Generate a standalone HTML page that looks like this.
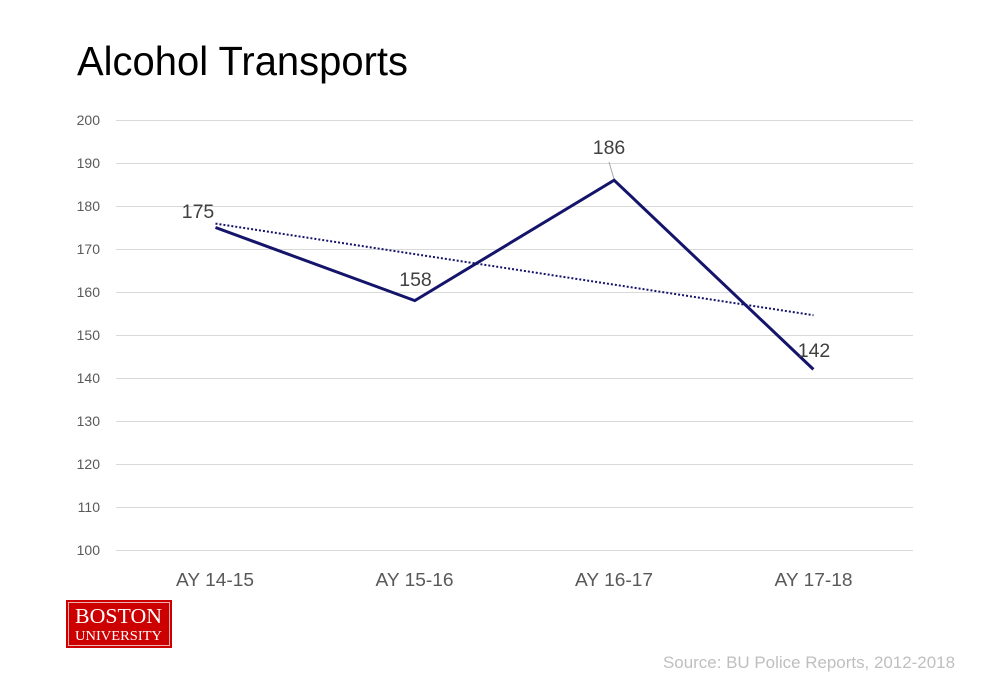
<!DOCTYPE html>
<html>
<head>
<meta charset="utf-8">
<style>
html,body{margin:0;padding:0;background:#fff;}
svg{display:block;}
</style>
</head>
<body>
<svg width="995" height="692" viewBox="0 0 995 692" xmlns="http://www.w3.org/2000/svg">
<rect width="995" height="692" fill="#fff"/>
<text x="77" y="75" font-family="Liberation Sans, sans-serif" font-size="41" fill="#000" textLength="331" lengthAdjust="spacingAndGlyphs">Alcohol Transports</text>
<g stroke="#d9d9d9" stroke-width="1">
<line x1="116" y1="120.5" x2="913" y2="120.5"/>
<line x1="116" y1="163.5" x2="913" y2="163.5"/>
<line x1="116" y1="206.5" x2="913" y2="206.5"/>
<line x1="116" y1="249.5" x2="913" y2="249.5"/>
<line x1="116" y1="292.5" x2="913" y2="292.5"/>
<line x1="116" y1="335.5" x2="913" y2="335.5"/>
<line x1="116" y1="378.5" x2="913" y2="378.5"/>
<line x1="116" y1="421.5" x2="913" y2="421.5"/>
<line x1="116" y1="464.5" x2="913" y2="464.5"/>
<line x1="116" y1="507.5" x2="913" y2="507.5"/>
<line x1="116" y1="550.5" x2="913" y2="550.5"/>
</g>
<g font-family="Liberation Sans, sans-serif" font-size="14" fill="#595959" text-anchor="end">
<text x="100" y="125">200</text>
<text x="100" y="168">190</text>
<text x="100" y="211">180</text>
<text x="100" y="254">170</text>
<text x="100" y="297">160</text>
<text x="100" y="340">150</text>
<text x="100" y="383">140</text>
<text x="100" y="426">130</text>
<text x="100" y="469">120</text>
<text x="100" y="512">110</text>
<text x="100" y="555">100</text>
</g>
<g font-family="Liberation Sans, sans-serif" font-size="18.5" fill="#595959" text-anchor="middle">
<text x="215" y="586" textLength="78" lengthAdjust="spacingAndGlyphs">AY 14-15</text>
<text x="414.5" y="586" textLength="78" lengthAdjust="spacingAndGlyphs">AY 15-16</text>
<text x="614" y="586" textLength="78" lengthAdjust="spacingAndGlyphs">AY 16-17</text>
<text x="813.5" y="586" textLength="78" lengthAdjust="spacingAndGlyphs">AY 17-18</text>
</g>
<line x1="215.5" y1="223.6" x2="813.5" y2="315.2" stroke="#14146b" stroke-width="2" stroke-dasharray="2,2"/>
<line x1="609" y1="162" x2="614" y2="179" stroke="#a6a6a6" stroke-width="1"/>
<polyline points="215.5,227.5 414.8,300.6 614.1,180.2 813.4,369.4" fill="none" stroke="#14146b" stroke-width="3" stroke-linejoin="miter"/>
<g font-family="Liberation Sans, sans-serif" font-size="19.5" fill="#404040" text-anchor="middle">
<text x="198" y="218">175</text>
<text x="415.5" y="286">158</text>
<text x="609" y="154">186</text>
<text x="814" y="357">142</text>
</g>
<rect x="66" y="600" width="106" height="48" fill="#cc0000"/>
<rect x="68.5" y="602.5" width="101" height="43" fill="none" stroke="#f0b0b0" stroke-width="1"/>
<text x="118.5" y="623" font-family="Liberation Serif, serif" font-size="21" fill="#fff" text-anchor="middle" textLength="87" lengthAdjust="spacingAndGlyphs">BOSTON</text>
<text x="118.5" y="640" font-family="Liberation Serif, serif" font-size="13.5" fill="#fff" text-anchor="middle" textLength="87" lengthAdjust="spacingAndGlyphs">UNIVERSITY</text>
<text x="663" y="668" font-family="Liberation Sans, sans-serif" font-size="17" fill="#bfbfbf" textLength="292" lengthAdjust="spacingAndGlyphs">Source: BU Police Reports, 2012-2018</text>
</svg>
</body>
</html>
